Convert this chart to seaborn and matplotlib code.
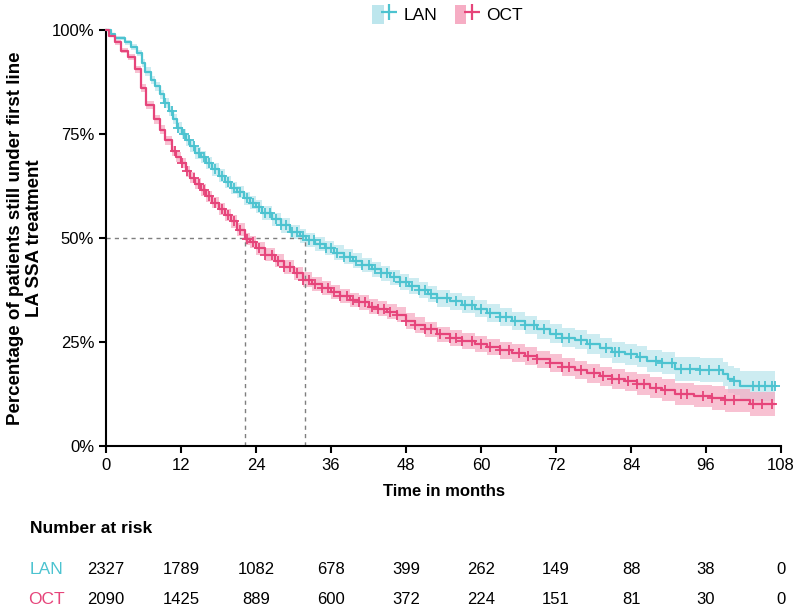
import numpy as np
import matplotlib
matplotlib.use("Agg")
import matplotlib.pyplot as plt
import seaborn as sns
from matplotlib.patches import Patch
from matplotlib.lines import Line2D
from matplotlib.legend_handler import HandlerTuple
from matplotlib.ticker import FuncFormatter

# --- data (months, % still on treatment) ---
lan_time = [0, 0.8, 1.5, 3.0, 4.0, 5.0, 5.8, 6.3, 7.2, 7.8, 8.6, 9.3, 10.0, 10.7, 11.4,
            12.1, 12.8, 13.5, 14.3, 15.2, 16.0, 17.0, 18.0, 19.0, 20.0, 21.0, 22.0, 23.0,
            24.0, 25.0, 26.5, 28.0, 29.5, 31.0, 32.0, 33.5, 35.0, 36.5, 38.0, 39.5, 41.0,
            42.5, 44.0, 45.5, 47.0, 48.5, 50.0, 51.5, 53.0, 55.0, 57.0, 59.0, 61.0, 63.0,
            65.0, 67.0, 69.0, 71.0, 73.0, 75.0, 77.0, 79.0, 81.0, 83.0, 85.0, 86.5, 89.0,
            91.0, 95.0, 98.7, 99.5, 100.5, 101.5, 107.0]
lan_surv = [100, 99, 98, 97, 96, 94.5, 92, 90, 88, 86.5, 84.5, 82.5, 80.5, 78.5, 76.5,
            75, 73.5, 72, 70.5, 69.5, 68, 66.5, 65, 63.5, 62, 61, 59.5, 58.5,
            57.5, 56, 54.5, 53, 51.5, 50.5, 49.5, 48.5, 47.5, 46.5, 45.5, 44.5, 43.5,
            42.5, 41.5, 40.5, 39.5, 38.5, 37.5, 36.5, 35.5, 34.8, 34, 33, 32, 31,
            30, 29, 28, 27, 26, 25.5, 24.5, 23.5, 22.5, 22, 21.5, 20.5, 20,
            18.5, 18.2, 17.3, 16, 15.5, 14.5, 14.5]
lan_ci = [0, 0.3, 0.5, 0.6, 0.7, 0.8, 0.9, 1.0, 1.0, 1.1, 1.1, 1.2, 1.2, 1.2, 1.3,
          1.3, 1.3, 1.4, 1.4, 1.4, 1.4, 1.5, 1.5, 1.5, 1.5, 1.5, 1.6, 1.6,
          1.6, 1.6, 1.6, 1.7, 1.7, 1.7, 1.7, 1.7, 1.7, 1.8, 1.8, 1.8, 1.8,
          1.8, 1.8, 1.9, 1.9, 1.9, 1.9, 1.9, 2.0, 2.0, 2.0, 2.0, 2.1, 2.1,
          2.1, 2.2, 2.2, 2.2, 2.3, 2.3, 2.4, 2.4, 2.5, 2.5, 2.6, 2.6, 2.7,
          2.8, 2.9, 3.0, 3.2, 3.3, 3.6, 3.6]

oct_time = [0, 0.5, 1.5, 2.4, 3.5, 4.6, 5.6, 6.4, 7.6, 8.6, 9.4, 10.5, 11.2, 12.0,
            12.8, 13.5, 14.3, 15.2, 16.0, 17.0, 18.0, 19.0, 20.0, 21.0, 22.2, 23.0,
            24.0, 25.5, 27.0, 28.5, 30.0, 31.5, 33.0, 34.5, 36.0, 37.5, 39.0, 40.5,
            42.0, 43.5, 45.0, 46.5, 48.0, 49.5, 51.0, 53.0, 55.0, 57.0, 59.0, 61.0,
            63.0, 65.0, 67.0, 69.0, 71.0, 73.0, 75.0, 77.0, 79.0, 81.0, 83.0, 85.0,
            87.0, 89.0, 91.0, 94.0, 97.0, 99.0, 103.0, 107.0]
oct_surv = [100, 98.5, 97, 95, 93.5, 90.5, 86, 82, 78.5, 76, 73.5, 71, 69.5, 68,
            66, 64.5, 63, 61.5, 60, 58.5, 57, 55.5, 54, 52, 49.8, 49,
            47.5, 46, 44.5, 43, 41.5, 40, 39, 38, 37, 36, 35, 34.5,
            33.5, 33, 32.3, 31.5, 30, 29, 28, 26.8, 26, 25.2, 24.5, 23.8,
            23, 22.3, 21.6, 20.8, 20, 19, 18.3, 17.5, 16.8, 16, 15.5, 14.8,
            14, 13.5, 12.5, 12, 11.5, 11, 10, 10]
oct_ci = [0, 0.3, 0.5, 0.6, 0.7, 0.8, 0.9, 1.0, 1.0, 1.1, 1.1, 1.2, 1.2, 1.2,
          1.3, 1.3, 1.3, 1.4, 1.4, 1.4, 1.4, 1.5, 1.5, 1.5, 1.5, 1.5,
          1.6, 1.6, 1.6, 1.6, 1.6, 1.7, 1.7, 1.7, 1.7, 1.7, 1.7, 1.8,
          1.8, 1.8, 1.8, 1.8, 1.9, 1.9, 1.9, 1.9, 1.9, 2.0, 2.0, 2.0,
          2.0, 2.1, 2.1, 2.1, 2.2, 2.2, 2.2, 2.3, 2.3, 2.4, 2.4, 2.5,
          2.5, 2.6, 2.6, 2.7, 2.8, 2.8, 2.9, 2.9]

lan_censor = [9.5, 10.5, 11.5, 12.5, 13.2, 14, 14.8, 15.6, 16.5, 17.5, 18.5, 19.5, 20.5,
              21.5, 22.5, 23.5, 24.5, 25.5, 26.3, 27.2, 28, 28.8, 29.8, 30.6, 31.5, 32.5,
              33.3, 34.2, 35.2, 36, 37, 38, 39, 40, 41, 42, 43, 44, 45, 46, 47, 48, 49,
              50, 51, 52, 53, 54.5, 56, 57.5, 58.5, 60, 61.5, 63, 64, 65.5, 67, 68.5, 70,
              72, 73, 74, 76, 77.5, 80, 81.5, 82, 84, 85.5, 88, 89, 90.5, 92, 93.5, 95,
              96.5, 98, 100.5, 103.5, 104.5, 105.5, 106.5, 107]
oct_censor = [11, 12.2, 13, 14, 14.8, 15.7, 16.5, 17.5, 18.5, 19.5, 20.5, 21.5, 22.5,
              23.5, 24.5, 25.5, 26.5, 27.5, 28.5, 29.5, 30.5, 31.5, 32.5, 33.5, 34.5,
              35.5, 36.5, 37.5, 38.5, 39.5, 40.5, 41.5, 42.5, 43.5, 44.5, 45.5, 46.5,
              48, 49.5, 51, 52, 53.5, 55, 56, 57, 58.5, 60, 61.5, 63, 64.5, 66, 67.5,
              69, 71, 73, 74, 76, 78, 79.5, 81, 82, 83.5, 85, 86, 88, 89.5, 92, 93,
              95.5, 97, 99, 100.5, 103.5, 105, 106.5]

medians = {"LAN": 31.8, "OCT": 22.2}
risk_times = [0, 12, 24, 36, 48, 60, 72, 84, 96, 108]
lan_risk = [2327, 1789, 1082, 678, 399, 262, 149, 88, 38, 0]
oct_risk = [2090, 1425, 889, 600, 372, 224, 151, 81, 30, 0]

LAN_C, LAN_F = "#4cc3d0", "#bde6ed"
OCT_C, OCT_F = "#e6447a", "#f6adc4"

sns.set_theme(style="ticks")
plt.rcParams["font.family"] = ["Liberation Sans", "DejaVu Sans"]
plt.rcParams["text.color"] = "black"
plt.rcParams["axes.labelcolor"] = "black"

fig = plt.figure(figsize=(7.96, 6.10), dpi=100)
ax = fig.add_axes([0.1332, 0.2689, 0.848, 0.682])

series = [
    ("LAN", lan_time, lan_surv, lan_ci, lan_censor, LAN_C, LAN_F),
    ("OCT", oct_time, oct_surv, oct_ci, oct_censor, OCT_C, OCT_F),
]
for name, t, s, ci, cens, col, fcol in series:
    t = np.array(t); s = np.array(s); ci = np.array(ci)
    ax.fill_between(t, s - ci, s + ci, step="post", color=fcol, alpha=0.75, lw=0, zorder=1)
for name, t, s, ci, cens, col, fcol in series:
    sns.lineplot(x=t, y=s, drawstyle="steps-post", color=col, lw=1.6, ax=ax,
                 zorder=3, clip_on=False)
    idx = np.searchsorted(t, cens, side="right") - 1
    cy = np.array(s)[idx]
    sns.scatterplot(x=cens, y=cy, marker="+", s=45, linewidth=1.3, color=col,
                    ax=ax, zorder=4, clip_on=False)

# median guide lines
ax.plot([0, medians["LAN"]], [50, 50], ls=(0, (3, 3)), color="#7f7f7f", lw=1, zorder=2)
for m in medians.values():
    ax.plot([m, m], [0, 50], ls=(0, (3, 3)), color="#7f7f7f", lw=1, zorder=2)

ax.set_xlim(0, 108)
ax.set_ylim(0, 100)
ax.set_xticks(risk_times)
ax.set_yticks([0, 25, 50, 75, 100])
ax.yaxis.set_major_formatter(FuncFormatter(lambda v, p: f"{int(v)}%"))
ax.tick_params(axis="both", labelsize=12, length=5, width=1.5, color="black", labelcolor="black")
for sp in ["left", "bottom"]:
    ax.spines[sp].set_linewidth(1.5)
    ax.spines[sp].set_color("black")
sns.despine(ax=ax)
ax.set_xlabel("Time in months", fontsize=12, fontweight="bold", labelpad=8)
ax.set_ylabel("Percentage of patients still under first line\nLA SSA treatment",
              fontsize=13.5, fontweight="bold", labelpad=6)

# legend
handles = [(Patch(facecolor=LAN_F, edgecolor="none"),
            Line2D([], [], color=LAN_C, marker="+", ms=12, mew=1.6, ls="none")),
           (Patch(facecolor=OCT_F, edgecolor="none"),
            Line2D([], [], color=OCT_C, marker="+", ms=12, mew=1.6, ls="none"))]
fig.legend(handles, ["LAN", "OCT"], handler_map={tuple: HandlerTuple(ndivide=None, pad=0)},
           loc="upper center", bbox_to_anchor=(0.562, 1.018), ncol=2, frameon=False,
           fontsize=12.5, handlelength=1.3, handleheight=1.3, columnspacing=1.0,
           handletextpad=0.5)

# number at risk table
tab = fig.add_axes([0.1332, 0.0, 0.848, 0.16])
tab.set_xlim(0, 108)
tab.set_ylim(0, 1)
tab.axis("off")
fig.text(0.038, 0.133, "Number at risk", fontsize=12.5, fontweight="bold", va="center")
for label, vals, col, yy in [("LAN", lan_risk, LAN_C, 0.41), ("OCT", oct_risk, OCT_C, 0.11)]:
    fig.text(0.058, yy * 0.16, label, color=col, fontsize=12.5, ha="center", va="center")
    for x, v in zip(risk_times, vals):
        tab.text(x, yy, str(v), fontsize=12, ha="center", va="center", color="black")

fig.savefig("out.png", dpi=100)
